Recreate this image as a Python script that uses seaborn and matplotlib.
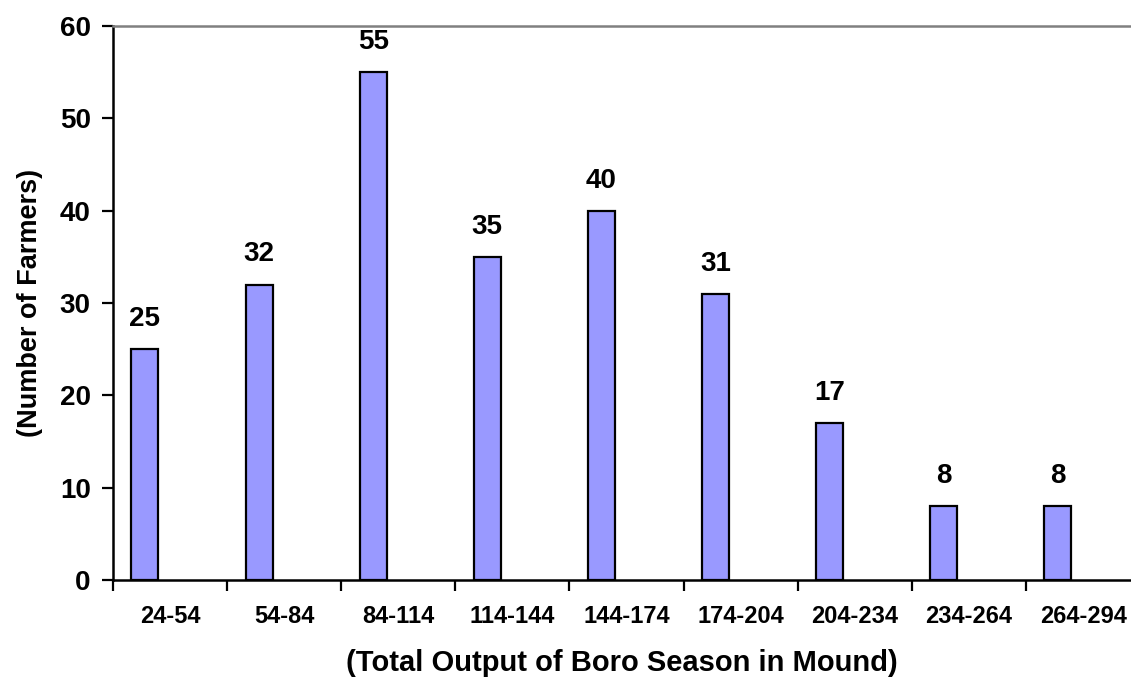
import numpy as np
import pandas as pd
import matplotlib.pyplot as plt
import seaborn as sns

# output classes (mound) and farmer counts
classes = ['24-54', '54-84', '84-114', '114-144', '144-174',
           '174-204', '204-234', '234-264', '264-294']
farmers = [25, 32, 55, 35, 40, 31, 17, 8, 8]

df = pd.DataFrame({'output': classes, 'farmers': farmers})

sns.set_style('white')
plt.rcParams['font.family'] = ['Liberation Sans', 'DejaVu Sans']
plt.rcParams['font.weight'] = 'bold'
plt.rcParams['text.color'] = 'black'
plt.rcParams['axes.labelcolor'] = 'black'
plt.rcParams['xtick.color'] = 'black'
plt.rcParams['ytick.color'] = 'black'

fig = plt.figure(figsize=(11.31, 6.81), dpi=100)
ax = fig.add_axes([0.0999, 0.1483, 0.9001, 0.8135])

sns.barplot(data=df, x='output', y='farmers', color='#9999FF',
            edgecolor='black', linewidth=1.6, width=0.236, saturation=1, ax=ax)

# bars sit left of the category centre, like the excel original
shift = 0.22
for p in ax.patches:
    p.set_x(p.get_x() - shift)

for p, v in zip(ax.patches, farmers):
    ax.text(p.get_x() + p.get_width() / 2, v + 2.5, str(v),
            ha='center', va='baseline', fontsize=20, fontweight='bold')

ax.set_ylim(0, 60)
ax.set_xlim(-0.5, 8.42)
ax.set_yticks(range(0, 61, 10))
ax.tick_params(axis='y', labelsize=20, length=8, width=1.6, direction='out',
               left=True, pad=8)
ax.set_xticks(np.arange(-0.5, 8, 1), minor=True)
ax.tick_params(axis='x', which='minor', length=8, width=1.6, direction='out',
               bottom=True)
ax.tick_params(axis='x', which='major', length=0, labelsize=17, pad=18)
for lab in ax.get_xticklabels() + ax.get_yticklabels():
    lab.set_fontweight('bold')

ax.set_xlabel('(Total Output of Boro Season in Mound)', fontsize=21,
              fontweight='bold', labelpad=16)
ax.xaxis.set_label_coords(0.5, -0.125)
ax.set_ylabel('(Number of Farmers)', fontsize=19.5, fontweight='bold',
              labelpad=12)

for s in ['left', 'bottom']:
    ax.spines[s].set_color('black')
    ax.spines[s].set_linewidth(1.8)
ax.spines['top'].set_color('#808080')
ax.spines['top'].set_linewidth(1.8)
ax.spines['right'].set_visible(False)

fig.savefig('out.png', dpi=100)
